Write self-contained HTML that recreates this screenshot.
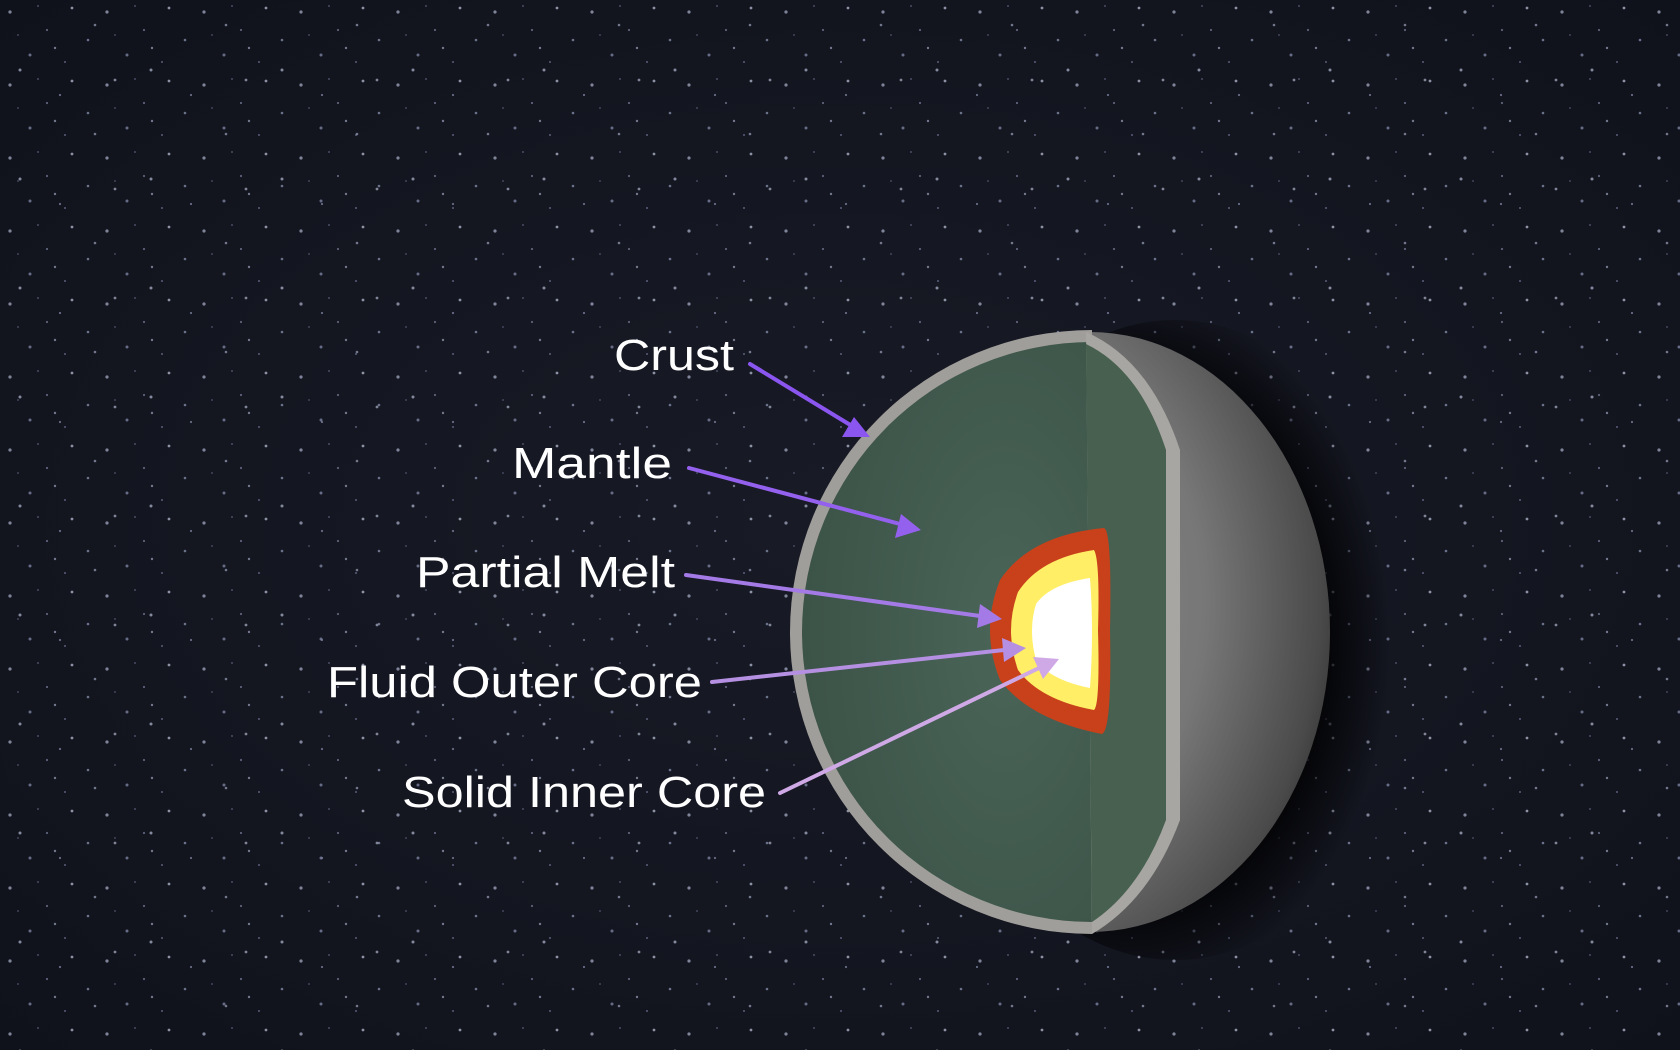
<!DOCTYPE html>
<html><head><meta charset="utf-8"><style>
html,body{margin:0;padding:0;width:1680px;height:1050px;overflow:hidden;background:#121420}
svg{display:block}
text{font-family:"Liberation Sans",sans-serif;fill:#fff;font-size:44px}
</style></head><body>
<svg width="1680" height="1050" viewBox="0 0 1680 1050">
<defs>
<radialGradient id="bg" cx="0.5" cy="0.5" r="0.7">
<stop offset="0" stop-color="#181a26"/><stop offset="1" stop-color="#10121b"/></radialGradient>
<radialGradient id="gray" cx="0.3" cy="0.45" r="0.8">
<stop offset="0" stop-color="#8c8c8c"/><stop offset="0.55" stop-color="#777"/><stop offset="0.85" stop-color="#4a4a4a"/><stop offset="1" stop-color="#222"/></radialGradient>
<radialGradient id="green" cx="0.7" cy="0.5" r="0.8">
<stop offset="0" stop-color="#4a6558"/><stop offset="1" stop-color="#3a5045"/></radialGradient>
<radialGradient id="shadow" cx="0.4" cy="0.5" r="0.55">
<stop offset="0.7" stop-color="#000" stop-opacity="0.95"/><stop offset="1" stop-color="#000" stop-opacity="0"/></radialGradient>
<pattern id="stars" width="97" height="73" patternUnits="userSpaceOnUse">
<circle cx="10" cy="12" r="1.6" fill="#9aa0b8"/><circle cx="47" cy="30" r="1.1" fill="#6f7590"/>
<circle cx="72" cy="8" r="1.4" fill="#aab0c5"/><circle cx="30" cy="55" r="1.5" fill="#7c82a0"/>
<circle cx="65" cy="62" r="1" fill="#6a7090"/><circle cx="88" cy="40" r="1.3" fill="#8088a5"/>
<circle cx="18" cy="35" r="0.9" fill="#5d6380"/><circle cx="55" cy="48" r="1.2" fill="#8a90a8"/>
<circle cx="38" cy="6" r="0.9" fill="#6a7090"/>
</pattern>
<pattern id="stars2" width="131" height="109" patternUnits="userSpaceOnUse">
<circle cx="20" cy="70" r="1.5" fill="#a0a6bd"/><circle cx="95" cy="25" r="1.3" fill="#8a90a8"/>
<circle cx="60" cy="95" r="1.1" fill="#7c82a0"/><circle cx="115" cy="80" r="1.4" fill="#9aa0b5"/>
</pattern>
</defs>
<rect width="1680" height="1050" fill="url(#bg)"/>
<rect width="1680" height="1050" fill="url(#stars)" opacity="0.8"/>
<rect width="1680" height="1050" fill="url(#stars2)" opacity="0.8"/>
<!-- shadow -->
<ellipse cx="1175" cy="640" rx="240" ry="320" fill="url(#shadow)"/>
<!-- gray hemisphere -->
<ellipse cx="1090" cy="632" rx="240" ry="300" fill="url(#gray)"/>
<!-- crust outline of cut face -->
<path d="M1092 330 A302 302 0 0 0 1092 934 Z" fill="#a09e9a"/>
<path d="M1092 342 A290 290 0 0 0 1092 922 Z" fill="url(#green)"/>
<!-- strip -->
<path d="M1086 332 Q1150 360 1180 450 L1180 820 Q1150 900 1092 934 Z" fill="#a8a6a2"/>
<path d="M1086 344 Q1140 370 1166 450 L1166 820 Q1140 890 1092 922 Z" fill="#48604f"/>
<!-- core -->
<path d="M1104 528 Q1112 530 1110 630 Q1112 730 1102 734 Q1030 720 1000 680 Q980 630 1000 580 Q1030 535 1104 528 Z" fill="#c9411a"/>
<path d="M1094 550 Q1100 560 1098 630 Q1100 705 1094 710 Q1040 700 1018 670 Q1004 630 1018 592 Q1040 558 1094 550 Z" fill="#ffee66"/>
<path d="M1090 578 Q1094 630 1090 688 Q1050 680 1036 660 Q1028 630 1036 604 Q1050 584 1090 578 Z" fill="#ffffff"/>
<!-- arrows -->
<g stroke-width="4" stroke-linecap="round">
<line x1="750" y1="364" x2="852" y2="426" stroke="#8b55f0"/>
<polygon points="870,437 842,437 854,417" fill="#8b55f0"/>
<line x1="689" y1="468" x2="900" y2="524" stroke="#9460ee"/>
<polygon points="921,530 895,538 901,514" fill="#9460ee"/>
<line x1="686" y1="575" x2="980" y2="616" stroke="#a47ae6"/>
<polygon points="1002,619 977,628 980,604" fill="#a47ae6"/>
<line x1="712" y1="682" x2="1004" y2="650" stroke="#b590e2"/>
<polygon points="1026,648 1004,662 1002,638" fill="#b590e2"/>
<line x1="780" y1="793" x2="1039" y2="668" stroke="#cfa8e6"/>
<polygon points="1059,659 1043,679 1033,657" fill="#cfa8e6"/>
</g>
<text x="614" y="370" textLength="120" lengthAdjust="spacingAndGlyphs">Crust</text>
<text x="512" y="478" textLength="160" lengthAdjust="spacingAndGlyphs">Mantle</text>
<text x="416" y="587" textLength="259" lengthAdjust="spacingAndGlyphs">Partial Melt</text>
<text x="327" y="697" textLength="375" lengthAdjust="spacingAndGlyphs">Fluid Outer Core</text>
<text x="402" y="807" textLength="364" lengthAdjust="spacingAndGlyphs">Solid Inner Core</text>
</svg>
</body></html>
